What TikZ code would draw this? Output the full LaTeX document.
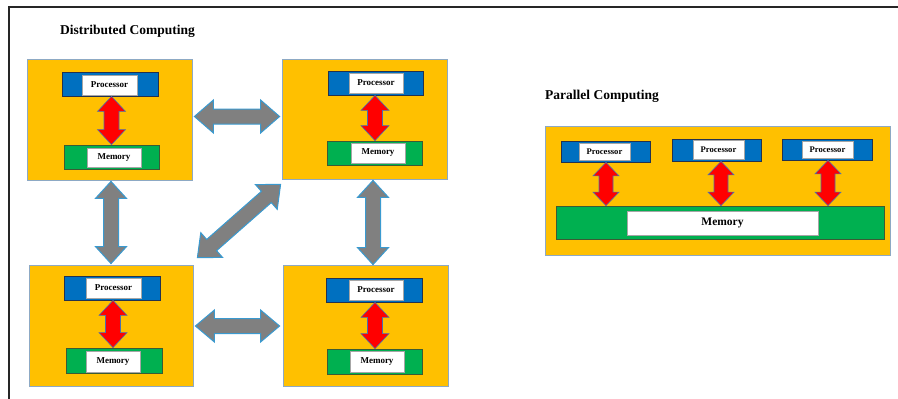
\documentclass[tikz,border=0pt]{standalone}
\usepackage{fontspec}
\setmainfont{Liberation Serif}
\usetikzlibrary{calc}
\definecolor{orangeC}{HTML}{FFC000}
\definecolor{blueC}{HTML}{0070C0}
\definecolor{greenC}{HTML}{00B050}
\definecolor{redC}{HTML}{FF0000}
\definecolor{grayC}{HTML}{808080}
\definecolor{grayEdge}{HTML}{3A9AD0}
\definecolor{boxEdge}{HTML}{8DA9C4}
\definecolor{blueEdge}{HTML}{23324F}
\definecolor{greenEdge}{HTML}{3B5B34}
\definecolor{redEdge}{HTML}{4A6FB0}
\newcommand\blkarrow[6]{%
 \path[#1] (#2) -- ($($(#2)!#6!(#3)$)!#5!90:(#3)$) -- ($($(#2)!#6!(#3)$)!#4!90:(#3)$)
  -- ($($(#3)!#6!(#2)$)!#4!-90:(#2)$) -- ($($(#3)!#6!(#2)$)!#5!-90:(#2)$) -- (#3)
  -- ($($(#3)!#6!(#2)$)!#5!90:(#2)$) -- ($($(#3)!#6!(#2)$)!#4!90:(#2)$)
  -- ($($(#2)!#6!(#3)$)!#4!-90:(#3)$) -- ($($(#2)!#6!(#3)$)!#5!-90:(#3)$) -- cycle;}
\tikzset{
 obox/.style={draw=boxEdge, fill=orangeC, line width=0.8pt, inner sep=0},
 bbox/.style={draw=blueEdge, fill=blueC, line width=0.8pt, inner sep=0},
 gbox/.style={draw=greenEdge, fill=greenC, line width=0.8pt, inner sep=0},
 wlab/.style={draw=gray!70, fill=white, line width=0.5pt, inner sep=0, font=\bfseries\fontsize{9}{10}\selectfont},
 title/.style={font=\bfseries\fontsize{13.5}{15}\selectfont, anchor=west, inner sep=0},
 grayarr/.style={fill=grayC, draw=grayEdge, line width=1pt},
 redarr/.style={fill=redC, draw=redEdge, line width=0.6pt},
}
\begin{document}
\begin{tikzpicture}[x=1pt,y=-1pt]
\useasboundingbox (0,0) rectangle (898,399);
\draw[line width=1.4pt, black!85] (898,7) -- (9,7) -- (9,399);

\node[title] (dtitle) at (60,31) {Distributed Computing};
\node[title] (ptitle) at (545,96) {Parallel Computing};

% top-left
\node[obox, minimum width=165, minimum height=121] (tl) at (109.5,119.5) {};
\node[bbox, minimum width=96, minimum height=24] (tlp) at (110,84) {};
\node[wlab, minimum width=55, minimum height=20] (tlpl) at (109.5,85) {Processor};
\node[gbox, minimum width=95, minimum height=24] (tlm) at (111.5,157) {};
\node[wlab, minimum width=54, minimum height=19] (tlml) at (114,157.5) {Memory};
% top-right
\node[obox, minimum width=165, minimum height=120] (tr) at (364.5,119) {};
\node[bbox, minimum width=95, minimum height=24] (trp) at (375.5,83) {};
\node[wlab, minimum width=54, minimum height=20] (trpl) at (376,83) {Processor};
\node[gbox, minimum width=95, minimum height=24] (trm) at (374.5,153) {};
\node[wlab, minimum width=54, minimum height=20] (trml) at (378,153) {Memory};
% bottom-left
\node[obox, minimum width=164, minimum height=121] (bl) at (111,325.5) {};
\node[bbox, minimum width=96, minimum height=24] (blp) at (112,288) {};
\node[wlab, minimum width=55, minimum height=20] (blpl) at (113.5,288) {Processor};
\node[gbox, minimum width=96, minimum height=25] (blm) at (114,360.5) {};
\node[wlab, minimum width=54, minimum height=21] (blml) at (113,361.5) {Memory};
% bottom-right
\node[obox, minimum width=165, minimum height=121] (br) at (365.5,325.5) {};
\node[bbox, minimum width=96, minimum height=24] (brp) at (374,290) {};
\node[wlab, minimum width=54, minimum height=20] (brpl) at (376,290) {Processor};
\node[gbox, minimum width=95, minimum height=25] (brm) at (374.5,361.5) {};
\node[wlab, minimum width=54, minimum height=21] (brml) at (377,361.5) {Memory};

% red arrows (distributed)
\coordinate (r1a) at ($(tlp.south)+(1.5,0)$);
\coordinate (r1b) at (r1a |- tlm.north);
\blkarrow{redarr}{r1a}{r1b}{7.5pt}{14pt}{15pt}
\coordinate (r2a) at ($(trp.south)+(-0.5,0)$);
\coordinate (r2b) at (r2a |- trm.north);
\blkarrow{redarr}{r2a}{r2b}{7.5pt}{14pt}{15pt}
\coordinate (r3a) at ($(blp.south)+(1,0)$);
\coordinate (r3b) at (r3a |- blm.north);
\blkarrow{redarr}{r3a}{r3b}{7.5pt}{14pt}{15pt}
\coordinate (r4a) at ($(brp.south)+(1,0)$);
\coordinate (r4b) at (r4a |- brm.north);
\blkarrow{redarr}{r4a}{r4b}{7.5pt}{14pt}{15pt}

% gray arrows
\coordinate (g1a) at ($(tl.east)+(2,-3)$);
\coordinate (g1b) at ($(tr.west)+(-2,-2.5)$);
\blkarrow{grayarr}{g1a}{g1b}{7.5pt}{16.5pt}{19pt}
\coordinate (g2a) at ($(bl.east)+(2,0.5)$);
\coordinate (g2b) at ($(br.west)+(-3,0.5)$);
\blkarrow{grayarr}{g2a}{g2b}{7.5pt}{16pt}{19pt}
\coordinate (g3a) at ($(tl.south)+(1.5,1)$);
\coordinate (g3b) at ($(bl.north)+(0,-1)$);
\blkarrow{grayarr}{g3a}{g3b}{7.5pt}{15.5pt}{17pt}
\coordinate (g4a) at ($(tr.south)+(8.5,1)$);
\coordinate (g4b) at ($(br.north)+(7.5,0)$);
\blkarrow{grayarr}{g4a}{g4b}{7.5pt}{15.5pt}{17pt}
\coordinate (g5a) at ($(bl.north east)+(4,-7)$);
\coordinate (g5b) at ($(tr.south west)+(-1,5)$);
\blkarrow{grayarr}{g5a}{g5b}{7.5pt}{16.5pt}{19pt}

% parallel computing
\node[obox, minimum width=345, minimum height=129] (par) at (717.5,190.5) {};
\node[bbox, minimum width=89, minimum height=21] (p1) at (605.5,151.5) {};
\node[wlab, minimum width=51, minimum height=17, font=\bfseries\fontsize{8.6}{10}\selectfont] (p1l) at (604.5,151.5) {Processor};
\node[bbox, minimum width=89, minimum height=22] (p2) at (716.5,150) {};
\node[wlab, minimum width=51, minimum height=19, font=\bfseries\fontsize{8.6}{10}\selectfont] (p2l) at (718.5,149.5) {Processor};
\node[bbox, minimum width=90, minimum height=21] (p3) at (827,149.5) {};
\node[wlab, minimum width=51, minimum height=17, font=\bfseries\fontsize{8.6}{10}\selectfont] (p3l) at (827.5,149.5) {Processor};
\node[gbox, minimum width=328, minimum height=33] (pm) at (720,222.5) {};
\node[wlab, minimum width=191, minimum height=24, font=\bfseries\fontsize{11.5}{13}\selectfont] (pml) at (722.5,223) {Memory};

\coordinate (q1a) at ($(p1.south)+(0.5,0)$);
\coordinate (q1b) at (q1a |- pm.north);
\blkarrow{redarr}{q1a}{q1b}{7pt}{13pt}{13.5pt}
\coordinate (q2a) at ($(p2.south)+(4.5,0)$);
\coordinate (q2b) at (q2a |- pm.north);
\blkarrow{redarr}{q2a}{q2b}{7pt}{13pt}{13.5pt}
\coordinate (q3a) at ($(p3.south)+(1,0)$);
\coordinate (q3b) at (q3a |- pm.north);
\blkarrow{redarr}{q3a}{q3b}{7pt}{13pt}{13.5pt}
\end{tikzpicture}
\end{document}
